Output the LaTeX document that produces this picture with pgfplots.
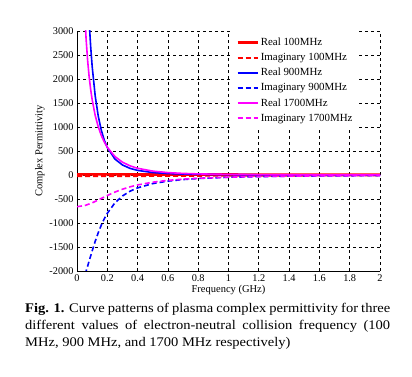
\documentclass[border=0pt]{standalone}
\usepackage{fontspec}
\setmainfont{Liberation Serif}
\newfontfamily\capfont[FakeStretch=1.1]{Liberation Serif}
\usepackage{pgfplots}
\pgfplotsset{compat=1.18}
\definecolor{cR}{RGB}{255,0,0}
\definecolor{cB}{RGB}{0,0,255}
\definecolor{cM}{RGB}{255,0,255}
\begin{document}
\begin{tikzpicture}
\path[use as bounding box] (0,0) rectangle (412bp,377bp);
\begin{axis}[
  at={(77bp,106bp)}, anchor=south west,
  width=303bp, height=240bp, scale only axis,
  xmin=0, xmax=2, ymin=-2000, ymax=3000,
  xtick={0,0.2,...,2.01}, ytick={-2000,-1500,...,3000},
  xticklabels={0,0.2,0.4,0.6,0.8,1,1.2,1.4,1.6,1.8,2},
  scaled y ticks=false,
  yticklabel style={/pgf/number format/.cd, fixed, 1000 sep={}, assume math mode=true},
  ticklabel style={font=\fontsize{10.3bp}{12bp}\selectfont},
  grid=major,
  major grid style={black, line width=0.7bp, dash pattern=on 3bp off 3bp},
  axis x line*=bottom, axis y line*=left,
  axis line style={black, line width=0.8bp, -},
  tick align=inside, major tick length=0bp,
  xlabel={Frequency (GHz)}, ylabel={Complex Permittivity},
  label style={font=\fontsize{10.5bp}{12bp}\selectfont},
  xlabel style={yshift=3bp},
  ylabel style={yshift=-2bp},
  legend style={at={(0.5116,1)}, anchor=north west, draw=none, fill=white,
    font=\fontsize{10.9bp}{12bp}\selectfont, inner xsep=4bp, inner ysep=5bp,
    row sep=2.2bp, cells={anchor=west}},
  legend image code/.code={\draw[#1] (0bp,0bp) -- (20bp,0bp);},
  legend cell align=left,
  clip=true,
]
\addplot[cR, line width=2.6bp] coordinates {(0,12) (0.2,12) (0.5,11) (0.8,10) (1.2,9) (1.6,8) (2,8)};
\addlegendentry{Real 100MHz}
\addplot[cR, line width=2bp, dash pattern=on 5bp off 3bp] coordinates {(0,-25) (0.2,-24) (0.4,-22) (0.6,-19) (0.8,-16) (1.2,-12) (1.6,-10) (2,-9)};
\addlegendentry{Imaginary 100MHz}
\addplot[cB, line width=1.6bp] coordinates {
(0.05,6011) (0.06,4782) (0.07,3889) (0.08,3213) (0.09,2686) (0.10,2267)
(0.12,1651) (0.14,1232) (0.16,938) (0.18,726) (0.20,572) (0.25,333)
(0.30,209) (0.35,138) (0.40,96) (0.50,51) (0.60,30) (0.70,19.4) (0.80,13.1)
(1.0,6.8) (1.2,3.9) (1.4,2.5) (1.6,1.7) (1.8,1.2) (2.0,0.9)};
\addlegendentry{Real 900MHz}
\addplot[cB, line width=1.6bp, dash pattern=on 5bp off 3bp] coordinates {
(0,-2354) (0.05,-2099) (0.06,-2003) (0.07,-1901) (0.08,-1794) (0.10,-1583)
(0.12,-1383) (0.14,-1204) (0.16,-1047) (0.18,-913) (0.20,-798) (0.25,-582)
(0.30,-437) (0.35,-338) (0.40,-268) (0.50,-179) (0.60,-127) (0.70,-95)
(0.80,-73) (1.0,-47) (1.2,-33) (1.4,-24) (1.6,-19) (1.8,-15) (2.0,-12)};
\addlegendentry{Imaginary 900MHz}
\addplot[cM, line width=1.6bp] coordinates {
(0.05,3452) (0.06,2836) (0.07,2391) (0.08,2052) (0.09,1786) (0.10,1571)
(0.12,1243) (0.14,1006) (0.16,827) (0.18,688) (0.20,577) (0.25,385)
(0.30,267) (0.35,191) (0.40,140) (0.50,81) (0.60,50) (0.70,33) (0.80,23)
(1.0,12.2) (1.2,7.2) (1.4,4.6) (1.6,3.1) (1.8,2.2) (2.0,1.6)};
\addlegendentry{Real 1700MHz}
\addplot[cM, line width=1.6bp, dash pattern=on 5bp off 3bp] coordinates {
(0,-660) (0.05,-638) (0.10,-581) (0.15,-505) (0.20,-427) (0.25,-356)
(0.30,-296) (0.35,-247) (0.40,-207) (0.50,-150) (0.60,-112) (0.70,-86)
(0.80,-68) (1.0,-45) (1.2,-32) (1.4,-24) (1.6,-18) (1.8,-15) (2.0,-12)};
\addlegendentry{Imaginary 1700MHz}
\end{axis}
\node[anchor=north west, inner sep=0pt, text width=365bp, align=justify,
  font=\capfont\fontsize{13.2bp}{17bp}\selectfont] at (25bp,74bp)
  {\textbf{Fig. 1.} Curve patterns of plasma complex permittivity for three\linebreak
   different values of electron-neutral collision frequency (100\linebreak
   MHz, 900 MHz, and 1700 MHz respectively)};
\end{tikzpicture}
\end{document}
